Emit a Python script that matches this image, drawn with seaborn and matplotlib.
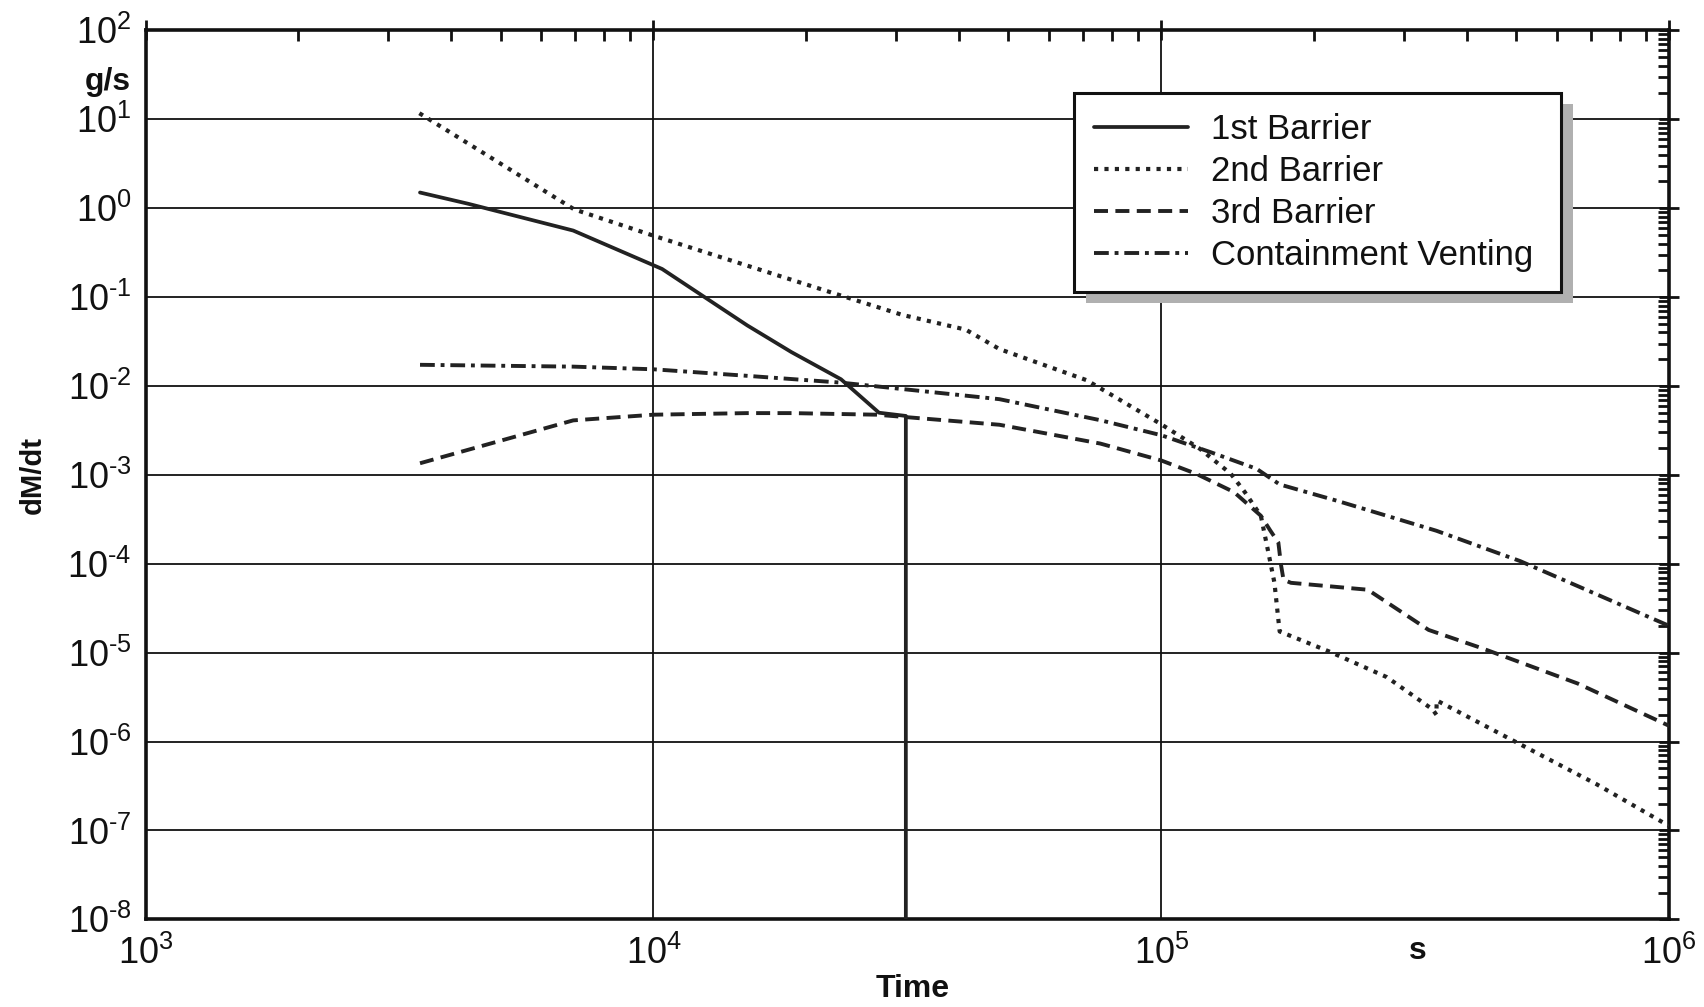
import numpy as np
import pandas as pd
import matplotlib
matplotlib.use("Agg")
import matplotlib.pyplot as plt
import seaborn as sns
from matplotlib.ticker import LogLocator, FuncFormatter, NullFormatter
from matplotlib.patches import Rectangle

# ---------------- data ----------------
t_first = [3470, 4320, 6950, 10400, 15300, 18700, 23400, 27800, 31400, 31400]
m_first = [1.5, 1.12, 0.56, 0.207, 0.048, 0.024, 0.0119, 0.0050, 0.0046, 1e-9]

t_second = [3460, 6980, 10000, 23400, 30900, 41200, 48000, 71300, 100000, 119000,
            137000, 146000, 157000, 162000, 167000, 170000, 171000, 214000, 278000,
            342000, 348000, 348500, 492000, 720000, 1000000]
m_second = [11.7, 0.97, 0.49, 0.104, 0.063, 0.043, 0.026, 0.0116, 0.0037, 0.00197,
            0.00103, 0.00064, 0.000347, 0.000145, 6.1e-5, 2.34e-5, 1.73e-5, 1.03e-5, 5.3e-6,
            2.3e-6, 2.0e-6, 2.9e-6, 1.03e-6, 3.3e-7, 1.12e-7]

t_third = [3470, 6950, 10000, 15300, 18700, 27500, 48000, 75800, 100000, 117000,
           139000, 157000, 164000, 170000, 172000, 174000, 180000, 255000, 336000,
           428000, 660000, 1000000]
m_third = [0.00135, 0.0041, 0.00475, 0.00495, 0.00495, 0.00475, 0.00366, 0.00225, 0.00145, 0.00103,
           0.00064, 0.000347, 0.000235, 0.000173, 9.8e-5, 6.6e-5, 6.1e-5, 5.1e-5, 1.8e-5,
           1.12e-5, 4.5e-6, 1.5e-6]

t_vent = [3470, 6950, 10000, 15300, 23400, 48000, 75800, 100000, 125000, 154000,
          171000, 222000, 348000, 509000, 1000000]
m_vent = [0.0173, 0.0165, 0.0154, 0.013, 0.0109, 0.0071, 0.00412, 0.00279, 0.0018, 0.00117,
          0.00078, 0.00051, 0.000235, 0.000107, 2.0e-5]

series_names = ["1st Barrier", "2nd Barrier", "3rd Barrier", "Containment Venting"]
x_label = "Time"
y_label = "dM/dt"
x_unit = "s"
y_unit = "g/s"

# ---------------- styling ----------------
sns.set_theme(style="white")
plt.rcParams["font.family"] = ["Liberation Sans", "DejaVu Sans"]
plt.rcParams["mathtext.fontset"] = "custom"
plt.rcParams["mathtext.rm"] = "Liberation Sans"
plt.rcParams["mathtext.it"] = "Liberation Sans:italic"
plt.rcParams["mathtext.bf"] = "Liberation Sans:bold"

W, H = 1704, 1007
fig = plt.figure(figsize=(W / 100, H / 100), dpi=100)
ax_l, ax_r, ax_t, ax_b = 145.6, 1669.2, 30.4, 919.3
ax = fig.add_axes([ax_l / W, 1 - ax_b / H, (ax_r - ax_l) / W, (ax_b - ax_t) / H])

line_col = "#222222"
styles = [
    dict(linestyle="-", lw=2.7),
    dict(linestyle=(0, (1.0, 1.5)), lw=3.0),
    dict(linestyle=(0, (3.6, 1.9)), lw=2.8),
    dict(linestyle=(0, (3.8, 1.5, 1.0, 1.5)), lw=2.8),
]
data = [(t_first, m_first), (t_second, m_second), (t_third, m_third), (t_vent, m_vent)]

for (tx, my), name, st in zip(data, series_names, styles):
    df = pd.DataFrame({"t": tx, "m": my})
    sns.lineplot(data=df, x="t", y="m", ax=ax, sort=False, estimator=None,
                 color=line_col, label=name, zorder=3, **st)

ax.set_xscale("log")
ax.set_yscale("log")
ax.set_xlim(1e3, 1e6)
ax.set_ylim(1e-8, 1e2)

def fmt(v, pos):
    e = int(round(np.log10(v)))
    if e < 0:
        return r"$\mathregular{10^{\text{-}%d}}$" % (-e)
    return r"$\mathregular{10^{%d}}$" % e

ax.xaxis.set_major_locator(LogLocator(base=10, numticks=20))
ax.yaxis.set_major_locator(LogLocator(base=10, numticks=20))
ax.xaxis.set_minor_locator(LogLocator(base=10, subs=np.arange(2, 10), numticks=50))
ax.yaxis.set_minor_locator(LogLocator(base=10, subs=np.arange(2, 10), numticks=50))
ax.xaxis.set_major_formatter(FuncFormatter(fmt))
ax.yaxis.set_major_formatter(FuncFormatter(fmt))
ax.xaxis.set_minor_formatter(NullFormatter())
ax.yaxis.set_minor_formatter(NullFormatter())

ax.grid(True, which="major", color="#111111", lw=1.3)
ax.grid(False, which="minor")
for s in ax.spines.values():
    s.set_linewidth(2.6)
    s.set_color("#111111")

ax.tick_params(which="major", direction="inout", length=14, width=2,
               top=True, right=True, labelsize=26, colors="#111111", pad=3)
ax.tick_params(which="minor", direction="in", length=8, width=2,
               top=True, right=True, colors="#111111")
ax.tick_params(axis="x", which="major", pad=5)

ax.set_xlabel("")
ax.set_ylabel("")
fig.text(913 / W, 1 - 989 / H, x_label, ha="center", va="center",
         fontsize=23, fontweight="bold", color="#111111")
fig.text(1418 / W, 1 - 951 / H, x_unit, ha="center", va="center",
         fontsize=23, fontweight="bold", color="#111111")
fig.text(108 / W, 1 - 82 / H, y_unit, ha="center", va="center",
         fontsize=23, fontweight="bold", color="#111111")
fig.text(33 / W, 1 - 475 / H, y_label, ha="center", va="center", rotation=90,
         fontsize=21, fontweight="bold", color="#111111")

leg = ax.legend(loc="upper left",
                bbox_to_anchor=(1073.7 / W, 1 - 288 / H, 486.8 / W, 195 / H),
                bbox_transform=fig.transFigure, mode="expand", fontsize=25, frameon=True,
                fancybox=False, framealpha=1, edgecolor="#111111",
                handlelength=2.7, handletextpad=0.68, borderpad=0.58,
                labelspacing=0.26, borderaxespad=0)
leg.get_frame().set_linewidth(2.2)
for t in leg.get_texts():
    t.set_color("#111111")
leg.set_zorder(10)

fig.canvas.draw()
bb = leg.get_window_extent()
shadow = Rectangle((bb.x0 + 12, bb.y0 - 11), bb.width, bb.height,
                   transform=None, facecolor="#b0b0b0", edgecolor="none", zorder=9)
fig.add_artist(shadow)
leg.remove()
fig.add_artist(leg)

fig.savefig("out.png", dpi=100)
